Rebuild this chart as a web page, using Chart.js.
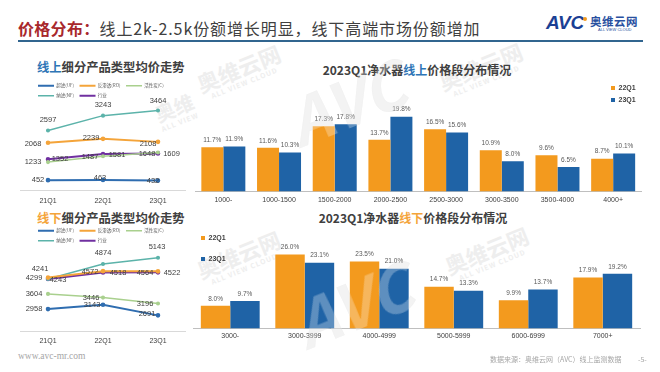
<!DOCTYPE html>
<html><head><meta charset="utf-8">
<script src="https://cdn.jsdelivr.net/npm/chart.js@4.4.1/dist/chart.umd.min.js"></script>
<style>
html,body{margin:0;padding:0;}
body{width:660px;height:372px;position:relative;overflow:hidden;background:#fff;font-family:"Noto Sans CJK SC","Noto Sans",sans-serif;}
.a{position:absolute;white-space:nowrap;}
canvas{position:absolute;}
#mainTitle{left:18px;top:17px;font-size:16px;line-height:22px;color:#404040;letter-spacing:0.9px;}
#mainTitle .r{color:#a8282c;font-weight:bold;letter-spacing:0.3px;}
#rule{left:18px;top:39.5px;width:625px;height:2px;background:#31658f;}
.ct{font-weight:bold;color:#404040;line-height:16px;}
.wm{color:#eeeeee;font-weight:bold;transform:translate(-50%,-50%) rotate(-22deg);line-height:1;text-align:center;}
.wm span{display:block;font-size:7px;letter-spacing:1px;margin-top:2px;}
.wmw{color:rgba(255,255,255,0.28);}
</style></head>
<body>
<!-- watermarks (behind) -->
<div class="a wm" style="left:240px;top:72px;font-size:22px;">奥维云网<span>ALL VIEW CLOUD</span></div>
<div class="a wm" style="left:482px;top:70px;font-size:22px;">奥维云网<span>ALL VIEW CLOUD</span></div>
<div class="a wm" style="left:240px;top:258px;font-size:22px;">奥维云网<span>ALL VIEW CLOUD</span></div>
<div class="a wm" style="left:488px;top:254px;font-size:22px;">奥维云网<span>ALL VIEW CLOUD</span></div>
<div class="a wm" style="left:176px;top:112px;font-size:20px;">奥维<span>ALL VIEW</span></div>
<div class="a wm" style="left:345px;top:100px;font-size:64px;font-style:italic;">AVC</div>
<div class="a wm" style="left:352px;top:302px;font-size:64px;font-style:italic;">AVC</div>

<div id="mainTitle" class="a"><span class="r">价格分布：</span>线上2k-2.5k份额增长明显，线下高端市场份额增加</div>
<div id="rule" class="a"></div>
<div class="a" style="left:546px;top:12px;font-family:'Liberation Sans',sans-serif;font-weight:900;font-style:italic;font-size:19px;line-height:21px;color:#1b3f94;letter-spacing:-0.3px;">AVC</div>
<div class="a" style="left:583px;top:17px;width:4px;height:4px;border-radius:2px;background:#f39a1e;"></div>
<div class="a" style="left:590px;top:15px;font-size:11.5px;line-height:13px;font-weight:bold;color:#2850a0;letter-spacing:0.5px;">奥维云网</div>
<div class="a" style="left:598px;top:27px;font-size:4px;line-height:5px;color:#2850a0;font-family:'Liberation Sans',sans-serif;">ALL VIEW CLOUD</div>

<div class="a ct" style="left:37px;top:59px;font-size:12.3px;"><span style="color:#2e75b6">线上</span>细分产品类型均价走势</div>
<div class="a ct" style="left:37px;top:210px;font-size:12.3px;"><span style="color:#f4a43a">线下</span>细分产品类型均价走势</div>
<div class="a ct" style="left:417px;top:62px;font-size:12px;transform:translateX(-50%);">2023Q1净水器<span style="color:#2e75b6">线上</span>价格段分布情况</div>
<div class="a ct" style="left:413px;top:210px;font-size:12px;transform:translateX(-50%);">2023Q1净水器<span style="color:#f4a43a">线下</span>价格段分布情况</div>

<canvas id="c1" width="200" height="135" style="left:0;top:76px"></canvas>
<canvas id="c2" width="200" height="129" style="left:0;top:221px"></canvas>
<canvas id="c3" width="470" height="128" style="left:190px;top:80px"></canvas>
<canvas id="c4" width="470" height="117" style="left:190px;top:226px"></canvas>

<!-- watermarks (over bars, very light) -->
<div class="a wm wmw" style="left:345px;top:100px;font-size:64px;font-style:italic;">AVC</div>
<div class="a wm wmw" style="left:352px;top:302px;font-size:64px;font-style:italic;">AVC</div>

<div class="a" style="left:18px;top:350px;font-family:'Liberation Serif','DejaVu Serif',serif;font-size:9.5px;line-height:13px;color:#a6a6a6;">www.avc-mr.com</div>
<div class="a" style="left:490px;top:354px;font-size:7px;line-height:10px;color:#a6a6a6;">数据来源：奥维云网（AVC）线上监测数据</div>
<div class="a" style="left:638px;top:354px;font-size:7px;line-height:10px;color:#a6a6a6;">-5-</div>

<script>
// ---- data ----
const quarters = ['21Q1', '22Q1', '23Q1'];
const seriesNames = ['超滤(UF)', '反渗透(RO)', '活性炭(C)', '纳滤(NF)', '行业'];
const onlineUF  = [452, 463, 432];
const onlineRO  = [2068, 2239, 2108];
const onlineC   = [1233, 1487, 1648];
const onlineNF  = [2597, 3243, 3464];
const onlineAll = [1352, 1581, 1609];
const offlineUF  = [2958, 3143, 2691];
const offlineRO  = [4299, 4572, 4564];
const offlineC   = [3604, 3446, 3196];
const offlineNF  = [4241, 4874, 5143];
const offlineAll = [4243, 4518, 4522];

const barSeries = ['22Q1', '23Q1'];
const onlineBands = ['1000-', '1000-1500', '1500-2000', '2000-2500', '2500-3000', '3000-3500', '3500-4000', '4000+'];
const online22 = [11.7, 11.6, 17.3, 13.7, 16.5, 10.9, 9.6, 8.7];
const online23 = [11.9, 10.3, 17.8, 19.8, 15.6, 8.0, 6.5, 10.1];
const offlineBands = ['3000-', '3000-3999', '4000-4999', '5000-5999', '6000-6999', '7000+'];
const offline22 = [8.0, 26.0, 23.5, 14.7, 9.9, 17.9];
const offline23 = [9.7, 23.1, 21.0, 13.3, 13.7, 19.2];

// ---- styling ----
const lineColors = ['#2f6db0', '#f4a43a', '#a9d08e', '#5cb3aa', '#7030a0'];
const lineWidths = [2, 2, 1.5, 1.5, 2];
const barColors = ['#f39a1e', '#1f63a6'];
// label offsets [dx,dy] relative to each point
const onlineLabelOffsets = [
  [[-10, 0], [-3, -1.5], [-5, 0]],
  [[-15, 1], [-12, -1], [-10, 2]],
  [[-15, 0], [-13, 0.5], [-11, 1]],
  [[0, -11], [0, -11], [0, -10]],
  [[12, 0], [14, 0.5], [13.5, 0.5]]
];
const offlineLabelOffsets = [
  [[-14, 0], [-11, 0], [-11, -1]],
  [[-14, 0], [-13, 1], [-13, 1.5]],
  [[-14, 0], [-12, 0], [-13, 0]],
  [[-8, -10], [0, -11], [-1, -11]],
  [[10, 1], [15, 0.5], [14, 0.5]]
];

const legendAt = {
  id: 'legendAt',
  afterLayout(chart, args, opts) {
    const lg = chart.legend;
    if (!lg || opts.x == null) return;
    const p = lg.options.labels.padding;
    const fs = lg.options.labels.font.size;
    const w = lg.right - lg.left, h = lg.bottom - lg.top;
    lg.left = opts.x - p; lg.right = lg.left + w;
    lg.top = opts.y - fs / 2 - p; lg.bottom = lg.top + h;
  }
};
const pointLabels = {
  id: 'pointLabels',
  afterDatasetsDraw(chart, args, opts) {
    if (!opts.offsets) return;
    const ctx = chart.ctx;
    ctx.save();
    ctx.font = opts.font; ctx.fillStyle = opts.color;
    ctx.textAlign = 'center'; ctx.textBaseline = 'middle';
    chart.data.datasets.forEach((ds, i) => {
      chart.getDatasetMeta(i).data.forEach((pt, j) => {
        const o = opts.offsets[i][j];
        ctx.fillText(String(ds.data[j]), pt.x + o[0], pt.y + o[1]);
      });
    });
    ctx.restore();
  }
};
const barLabels = {
  id: 'barLabels',
  afterDatasetsDraw(chart, args, opts) {
    if (!opts.on) return;
    const ctx = chart.ctx;
    ctx.save();
    ctx.font = opts.font; ctx.fillStyle = opts.color;
    ctx.textAlign = 'center'; ctx.textBaseline = 'middle';
    chart.data.datasets.forEach((ds, i) => {
      chart.getDatasetMeta(i).data.forEach((bar, j) => {
        ctx.fillText(ds.data[j].toFixed(1) + '%', bar.x, bar.y - 7);
      });
    });
    ctx.restore();
  }
};
Chart.register(legendAt, pointLabels, barLabels);

function lineChart(id, arrays, yMin, yMax, tickPad, offsets, lgY) {
  return new Chart(document.getElementById(id), {
    type: 'line',
    data: {
      labels: quarters,
      datasets: arrays.map((d, i) => ({
        label: seriesNames[i], data: d,
        borderColor: lineColors[i], backgroundColor: lineColors[i],
        borderWidth: lineWidths[i], pointRadius: 1.3, pointBorderWidth: lineWidths[i],
        pointBorderColor: lineColors[i], pointBackgroundColor: lineColors[i], tension: 0
      }))
    },
    options: {
      responsive: false, animation: false, devicePixelRatio: 1,
      layout: { padding: { left: 20.5, right: 14.5, top: 0, bottom: 0 } },
      scales: {
        x: {
          offset: true,
          grid: { display: false, drawTicks: false },
          border: { display: true, color: '#d9d9d9', width: 1 },
          ticks: { padding: tickPad, color: '#404040', font: { size: 7, family: "'Liberation Sans', Arial, sans-serif" } }
        },
        y: { display: false, min: yMin, max: yMax }
      },
      plugins: {
        legend: {
          position: 'top', align: 'start',
          labels: {
            usePointStyle: true, pointStyle: 'line', pointStyleWidth: 16,
            padding: 5.5, color: '#595959',
            font: { size: 4.5, family: "'Noto Sans CJK SC', sans-serif" }
          }
        },
        tooltip: { enabled: false },
        legendAt: { x: 38, y: lgY },
        pointLabels: { offsets: offsets, font: "7.5px 'Liberation Sans', Arial, sans-serif", color: '#404040' }
      }
    }
  });
}

function barChart(id, labels, a, b, yMax, pad, tickPad, lg) {
  return new Chart(document.getElementById(id), {
    type: 'bar',
    data: {
      labels: labels,
      datasets: [
        { label: barSeries[0], data: a, backgroundColor: barColors[0], categoryPercentage: 0.79, barPercentage: 1.0 },
        { label: barSeries[1], data: b, backgroundColor: barColors[1], categoryPercentage: 0.79, barPercentage: 1.0 }
      ]
    },
    options: {
      responsive: false, animation: false, devicePixelRatio: 1,
      layout: { padding: pad },
      scales: {
        x: {
          grid: { display: false, drawTicks: false },
          border: { display: true, color: '#bfbfbf', width: 1 },
          ticks: { padding: tickPad, color: '#404040', font: { size: 7, family: "'Liberation Sans', Arial, sans-serif" } }
        },
        y: { display: false, min: 0, max: yMax }
      },
      plugins: {
        legend: {
          position: 'chartArea', align: 'start',
          labels: {
            boxWidth: 4, boxHeight: 4, padding: lg.p, color: '#404040',
            font: { size: 7, weight: 'bold', family: "'Liberation Sans', Arial, sans-serif" }
          }
        },
        tooltip: { enabled: false },
        legendAt: { x: lg.x, y: lg.y },
        barLabels: { on: true, font: "6.5px 'Liberation Sans', Arial, sans-serif", color: '#595959' }
      }
    }
  });
}

lineChart('c1', [onlineUF, onlineRO, onlineC, onlineNF, onlineAll], 0, 3660, 6, onlineLabelOffsets, 9.7);
lineChart('c2', [offlineUF, offlineRO, offlineC, offlineNF, offlineAll], 2000, 5430, 5, offlineLabelOffsets, 9.7);
barChart('c3', onlineBands, online22, online23, 25, { left: 5.5, right: 19, top: 17, bottom: 0 }, 4, { x: 421, y: 8, p: 5 });
barChart('c4', offlineBands, offline22, offline23, 30, { left: 3, right: 20, top: 17, bottom: 0 }, 3, { x: 11, y: 12, p: 14 });
</script>
</body></html>
